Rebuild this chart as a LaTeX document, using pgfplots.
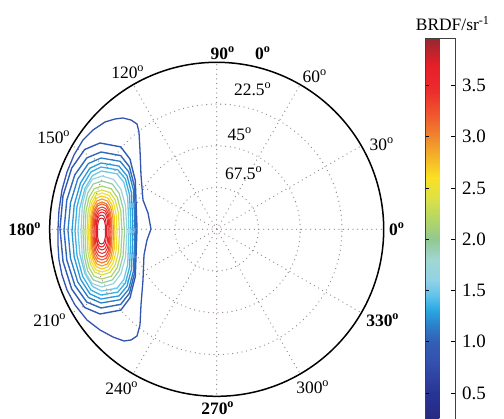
\documentclass[border=0pt]{standalone}
\usepackage{fontspec}
\setmainfont{Liberation Serif}
\usepackage{pgfplots}
\pgfplotsset{compat=1.18}
\pgfplotsset{colormap={brdf}{
 rgb255(0.22cm)=(38,40,128) rgb255(0.5cm)=(40,52,148) rgb255(0.8cm)=(52,80,175)
 rgb255(1.0cm)=(50,95,180) rgb255(1.15cm)=(45,125,200) rgb255(1.3cm)=(40,165,225)
 rgb255(1.45cm)=(95,195,235) rgb255(1.6cm)=(145,210,230) rgb255(1.8cm)=(160,215,210)
 rgb255(2.0cm)=(145,200,145) rgb255(2.2cm)=(180,215,100) rgb255(2.4cm)=(220,225,70)
 rgb255(2.6cm)=(250,225,35) rgb255(2.8cm)=(245,180,40) rgb255(3.0cm)=(240,135,45)
 rgb255(3.2cm)=(240,90,45) rgb255(3.45cm)=(235,45,45) rgb255(3.7cm)=(230,30,40)
 rgb255(3.96cm)=(150,40,48)}}
\newcommand{\dg}{\textsuperscript{o}}
\definecolor{gridc}{RGB}{150,135,135}
\begin{document}
\begin{tikzpicture}
\fontsize{17.5}{21}\selectfont
\begin{scope}[gridc, line width=1.3bp, dash pattern=on 0bp off 4.7bp, line cap=round]
\foreach \r in {41.75,83.5,125.25} \draw (0,0) circle[radius=\r bp];
\foreach \a in {0,30,...,330} \draw (0,0) -- (\a:167bp);
\end{scope}
\begin{axis}[
  at={(0,0)}, anchor=center, scale only axis, width=334bp, height=334bp,
  xmin=49.7, xmax=383.7, ymin=-396.3, ymax=-62.3,
  view={0}{90}, hide axis, clip=false,
  colormap name=brdf, point meta min=0.22, point meta max=3.96,
  colorbar,
  colorbar style={
    at={(parent axis.north east)}, anchor=north west, xshift=33bp, yshift=24bp,
    scale only axis, width=30bp, height=383.5bp,
    ytick={0.5,1,1.5,2,2.5,3,3.5},
    tick label style={font=\fontsize{19}{22}\selectfont},
    yticklabel style={font=\fontsize{19}{22}\selectfont, xshift=1bp, /pgf/number format/.cd, fixed, fixed zerofill, precision=1, assume math mode=true},
    ytick pos=both, yticklabel pos=right, tick align=inside, major tick length=4bp,
    tick style={black, line width=1bp},
    axis line style={black!75, line width=0.8bp},
  },
]
\addplot3[contour prepared={labels=false}, line width=1.3bp] table[row sep=\\]{
123 -118 0.85\\131 -120 0.85\\137 -124 0.85\\139 -132 0.85\\140 -150 0.85\\141 -175 0.85\\143 -200 0.85\\148 -213 0.85\\151 -229 0.85\\147 -240 0.85\\144 -255 0.85\\143 -280 0.85\\141 -305 0.85\\140 -325 0.85\\137 -336 0.85\\131 -340 0.85\\124 -341 0.85\\113 -337 0.85\\100 -330 0.85\\87 -320 0.85\\75 -305 0.85\\67 -290 0.85\\62 -275 0.85\\59 -260 0.85\\58 -245 0.85\\58 -229 0.85\\59 -210 0.85\\62 -190 0.85\\67 -172 0.85\\74 -155 0.85\\83 -140 0.85\\93 -130 0.85\\105 -122 0.85\\115 -119 0.85\\123 -118 0.85\\
};
\addplot3[contour prepared={labels=false}, line width=1.4bp] table[row sep=\\]{
100 -143 0.95\\120.8 -146.9 0.95\\130 -159.1 0.95\\135.3 -180.5 0.95\\137 -228.5 0.95\\135.3 -276.5 0.95\\130 -297.9 0.95\\120.8 -310.1 0.95\\100 -314 0.95\\84.7 -307.5 0.95\\71.7 -289 0.95\\63 -261.3 0.95\\60 -228.5 0.95\\63 -195.8 0.95\\71.7 -168.1 0.95\\84.7 -149.5 0.95\\100 -143 0.95\\
};
\addplot3[contour prepared={labels=false}, line width=1.4bp] table[row sep=\\]{
101 -152 1.05\\120.7 -155.6 1.05\\129.4 -166.7 1.05\\134.4 -186.2 1.05\\136 -230 1.05\\134.4 -273.8 1.05\\129.4 -293.3 1.05\\120.7 -304.4 1.05\\101 -308 1.05\\86.8 -302.1 1.05\\74.8 -285.2 1.05\\66.8 -259.9 1.05\\64 -230 1.05\\66.8 -200.1 1.05\\74.8 -174.9 1.05\\86.8 -157.9 1.05\\101 -152 1.05\\
};
\addplot3[contour prepared={labels=false}, line width=1.3bp] table[row sep=\\]{
101 -158 1.15\\120.1 -161.3 1.15\\128.6 -171.6 1.15\\133.4 -189.8 1.15\\135 -230.5 1.15\\133.4 -271.3 1.15\\128.6 -289.4 1.15\\120.1 -299.7 1.15\\101 -303 1.15\\88.4 -297.5 1.15\\77.7 -281.8 1.15\\70.5 -258.3 1.15\\68 -230.5 1.15\\70.5 -202.7 1.15\\77.7 -179.2 1.15\\88.4 -163.5 1.15\\101 -158 1.15\\
};
\addplot3[contour prepared={labels=false}, line width=1.3bp] table[row sep=\\]{
101 -163 1.25\\119 -166.1 1.25\\127 -175.8 1.25\\131.5 -192.8 1.25\\133 -231 1.25\\131.5 -269.2 1.25\\127 -286.2 1.25\\119 -295.9 1.25\\101 -299 1.25\\89.9 -293.8 1.25\\80.5 -279.1 1.25\\74.2 -257 1.25\\72 -231 1.25\\74.2 -205 1.25\\80.5 -182.9 1.25\\89.9 -168.2 1.25\\101 -163 1.25\\
};
\addplot3[contour prepared={labels=false}, line width=1.3bp] table[row sep=\\]{
101 -167 1.35\\117.9 -169.9 1.35\\125.4 -179 1.35\\129.6 -195 1.35\\131 -231 1.35\\129.6 -267 1.35\\125.4 -283 1.35\\117.9 -292.1 1.35\\101 -295 1.35\\91 -290.1 1.35\\82.6 -276.2 1.35\\77 -255.5 1.35\\75 -231 1.35\\77 -206.5 1.35\\82.6 -185.8 1.35\\91 -171.9 1.35\\101 -167 1.35\\
};
\addplot3[contour prepared={labels=false}, line width=1.3bp] table[row sep=\\]{
101.5 -171 1.5\\117 -173.8 1.5\\123.8 -182.3 1.5\\127.7 -197.3 1.5\\129 -231 1.5\\127.7 -264.7 1.5\\123.8 -279.7 1.5\\117 -288.2 1.5\\101.5 -291 1.5\\92.5 -286.4 1.5\\84.9 -273.4 1.5\\79.8 -254 1.5\\78 -231 1.5\\79.8 -208 1.5\\84.9 -188.6 1.5\\92.5 -175.6 1.5\\101.5 -171 1.5\\
};
\addplot3[contour prepared={labels=false}, line width=1.2bp] table[row sep=\\]{
102 -176 1.7\\113.6 -179.4 1.7\\121 -189.4 1.7\\125.5 -205.7 1.7\\127 -231.5 1.7\\125.5 -257.3 1.7\\121 -273.6 1.7\\113.6 -283.6 1.7\\102 -287 1.7\\92.3 -283.6 1.7\\86.1 -273.6 1.7\\82.3 -257.3 1.7\\81 -231.5 1.7\\82.3 -205.7 1.7\\86.1 -189.4 1.7\\92.3 -179.4 1.7\\102 -176 1.7\\
};
\addplot3[contour prepared={labels=false}, line width=1.2bp] table[row sep=\\]{
102 -181 1.95\\112.4 -184.1 1.95\\119.1 -193.3 1.95\\123.1 -208.3 1.95\\124.5 -232 1.95\\123.1 -255.7 1.95\\119.1 -270.7 1.95\\112.4 -279.9 1.95\\102 -283 1.95\\93.2 -279.9 1.95\\87.6 -270.7 1.95\\84.2 -255.7 1.95\\83 -232 1.95\\84.2 -208.3 1.95\\87.6 -193.3 1.95\\93.2 -184.1 1.95\\102 -181 1.95\\
};
\addplot3[contour prepared={labels=false}, line width=1.2bp] table[row sep=\\]{
102 -186 2.15\\111.3 -188.8 2.15\\117.2 -197.3 2.15\\120.8 -210.9 2.15\\122 -232.5 2.15\\120.8 -254.1 2.15\\117.2 -267.7 2.15\\111.3 -276.2 2.15\\102 -279 2.15\\94.1 -276.2 2.15\\89.1 -267.7 2.15\\86 -254.1 2.15\\85 -232.5 2.15\\86 -210.9 2.15\\89.1 -197.3 2.15\\94.1 -188.8 2.15\\102 -186 2.15\\
};
\addplot3[contour prepared={labels=false}, line width=1.2bp] table[row sep=\\]{
102 -190 2.35\\110.1 -192.6 2.35\\115.3 -200.3 2.35\\118.4 -212.8 2.35\\119.5 -232.5 2.35\\118.4 -252.2 2.35\\115.3 -264.7 2.35\\110.1 -272.4 2.35\\102 -275 2.35\\95 -272.4 2.35\\90.6 -264.7 2.35\\87.9 -252.2 2.35\\87 -232.5 2.35\\87.9 -212.8 2.35\\90.6 -200.3 2.35\\95 -192.6 2.35\\102 -190 2.35\\
};
\addplot3[contour prepared={labels=false}, line width=1.2bp] table[row sep=\\]{
102 -193 2.55\\109 -195.4 2.55\\113.4 -202.6 2.55\\116.1 -214.2 2.55\\117 -232.5 2.55\\116.1 -250.8 2.55\\113.4 -262.4 2.55\\109 -269.6 2.55\\102 -272 2.55\\95.7 -269.6 2.55\\91.8 -262.4 2.55\\89.3 -250.8 2.55\\88.5 -232.5 2.55\\89.3 -214.2 2.55\\91.8 -202.6 2.55\\95.7 -195.4 2.55\\102 -193 2.55\\
};
\addplot3[contour prepared={labels=false}, line width=1.2bp] table[row sep=\\]{
102 -196 2.7\\108 -198.2 2.7\\111.9 -204.8 2.7\\114.2 -215.6 2.7\\115 -232.5 2.7\\114.2 -249.4 2.7\\111.9 -260.2 2.7\\108 -266.8 2.7\\102 -269 2.7\\96.4 -266.8 2.7\\92.9 -260.2 2.7\\90.7 -249.4 2.7\\90 -232.5 2.7\\90.7 -215.6 2.7\\92.9 -204.8 2.7\\96.4 -198.2 2.7\\102 -196 2.7\\
};
\addplot3[contour prepared={labels=false}, line width=1.2bp] table[row sep=\\]{
102 -199 2.9\\107.3 -201 2.9\\110.7 -207.1 2.9\\112.8 -217 2.9\\113.5 -232.5 2.9\\112.8 -248 2.9\\110.7 -257.9 2.9\\107.3 -264 2.9\\102 -266 2.9\\96.9 -264 2.9\\93.7 -257.9 2.9\\91.7 -248 2.9\\91 -232.5 2.9\\91.7 -217 2.9\\93.7 -207.1 2.9\\96.9 -201 2.9\\102 -199 2.9\\
};
\addplot3[contour prepared={labels=false}, line width=1.2bp] table[row sep=\\]{
102 -202 3.05\\106.6 -203.9 3.05\\109.6 -209.4 3.05\\111.4 -218.3 3.05\\112 -232.5 3.05\\111.4 -246.7 3.05\\109.6 -255.6 3.05\\106.6 -261.1 3.05\\102 -263 3.05\\97.4 -261.1 3.05\\94.4 -255.6 3.05\\92.6 -246.7 3.05\\92 -232.5 3.05\\92.6 -218.3 3.05\\94.4 -209.4 3.05\\97.4 -203.9 3.05\\102 -202 3.05\\
};
\addplot3[contour prepared={labels=false}, line width=1.1bp] table[row sep=\\]{
102 -204 3.2\\106.2 -205.7 3.2\\108.8 -210.8 3.2\\110.5 -219 3.2\\111 -232 3.2\\110.5 -245 3.2\\108.8 -253.2 3.2\\106.2 -258.3 3.2\\102 -260 3.2\\97.8 -258.3 3.2\\95.2 -253.2 3.2\\93.5 -245 3.2\\93 -232 3.2\\93.5 -219 3.2\\95.2 -210.8 3.2\\97.8 -205.7 3.2\\102 -204 3.2\\
};
\addplot3[contour prepared={labels=false}, line width=1.1bp] table[row sep=\\]{
102 -207 3.35\\105.7 -208.5 3.35\\108.1 -213 3.35\\109.5 -220.4 3.35\\110 -232 3.35\\109.5 -243.6 3.35\\108.1 -251 3.35\\105.7 -255.5 3.35\\102 -257 3.35\\98.3 -255.5 3.35\\95.9 -251 3.35\\94.5 -243.6 3.35\\94 -232 3.35\\94.5 -220.4 3.35\\95.9 -213 3.35\\98.3 -208.5 3.35\\102 -207 3.35\\
};
\addplot3[contour prepared={labels=false}, line width=1bp] table[row sep=\\]{
102 -209.5 3.5\\105.2 -210.8 3.5\\107.3 -214.8 3.5\\108.6 -221.3 3.5\\109 -231.5 3.5\\108.6 -241.7 3.5\\107.3 -248.2 3.5\\105.2 -252.2 3.5\\102 -253.5 3.5\\98.8 -252.2 3.5\\96.7 -248.2 3.5\\95.4 -241.7 3.5\\95 -231.5 3.5\\95.4 -221.3 3.5\\96.7 -214.8 3.5\\98.8 -210.8 3.5\\102 -209.5 3.5\\
};
\addplot3[contour prepared={labels=false}, line width=1bp] table[row sep=\\]{
102 -212 3.6\\104.8 -213.2 3.6\\106.5 -216.6 3.6\\107.6 -222.2 3.6\\108 -231 3.6\\107.6 -239.8 3.6\\106.5 -245.4 3.6\\104.8 -248.8 3.6\\102 -250 3.6\\99.2 -248.8 3.6\\97.5 -245.4 3.6\\96.4 -239.8 3.6\\96 -231 3.6\\96.4 -222.2 3.6\\97.5 -216.6 3.6\\99.2 -213.2 3.6\\102 -212 3.6\\
};
\addplot3[contour prepared={labels=false}, line width=1bp] table[row sep=\\]{
101.5 -215 3.7\\103.8 -216 3.7\\105.3 -218.9 3.7\\106.2 -223.6 3.7\\106.5 -231 3.7\\106.2 -238.4 3.7\\105.3 -243.1 3.7\\103.8 -246 3.7\\101.5 -247 3.7\\99.2 -246 3.7\\97.7 -243.1 3.7\\96.8 -238.4 3.7\\96.5 -231 3.7\\96.8 -223.6 3.7\\97.7 -218.9 3.7\\99.2 -216 3.7\\101.5 -215 3.7\\
};
\addplot3[contour prepared={labels=false}, line width=1bp] table[row sep=\\]{
101.5 -218 3.8\\103.4 -218.8 3.8\\104.5 -221.1 3.8\\105.3 -225 3.8\\105.5 -231 3.8\\105.3 -237 3.8\\104.5 -240.9 3.8\\103.4 -243.2 3.8\\101.5 -244 3.8\\99.6 -243.2 3.8\\98.5 -240.9 3.8\\97.7 -237 3.8\\97.5 -231 3.8\\97.7 -225 3.8\\98.5 -221.1 3.8\\99.6 -218.8 3.8\\101.5 -218 3.8\\
};
\end{axis}
\draw[line width=1.5bp] (0,0) circle[radius=167bp];
\begin{scope}[every node/.style={inner sep=0pt, anchor=center}]
\node at (6bp,176bp) {\textbf{90\dg}};
\node at (46bp,176bp) {\textbf{0\dg}};
\node at (98bp,153bp) {60\dg};
\node at (165bp,85bp) {30\dg};
\node at (180bp,0bp) {\textbf{0\dg}};
\node at (166bp,-91bp) {\textbf{330\dg}};
\node at (96bp,-158bp) {300\dg};
\node at (1bp,-179bp) {\textbf{270\dg}};
\node at (-95bp,-159bp) {240\dg};
\node at (-167bp,-91bp) {210\dg};
\node at (-192bp,0bp) {\textbf{180\dg}};
\node at (-163bp,92bp) {150\dg};
\node at (-89bp,157bp) {120\dg};
\node at (36bp,140bp) {22.5\dg};
\node at (23bp,95bp) {45\dg};
\node at (27bp,56bp) {67.5\dg};
\node[anchor=west] at (199bp,206bp) {BRDF/sr\textsuperscript{-1}};
\end{scope}
\pgfresetboundingbox
\path[use as bounding box] (-216.7bp,-189.7bp) rectangle (287.3bp,229.3bp);
\end{tikzpicture}
\end{document}
